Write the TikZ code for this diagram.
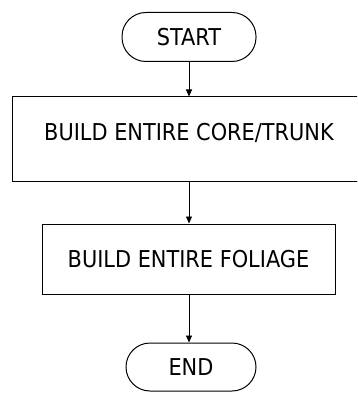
\documentclass[tikz,border=0pt]{standalone}
\usepackage{fontspec}
\setmainfont{DejaVu Sans Condensed}
\usetikzlibrary{arrows.meta}
\begin{document}
\begin{tikzpicture}[x=1pt,y=-1pt,
  lbl/.style={font=\fontsize{23.2}{27}\selectfont},
  term/.style={draw,line width=1pt,rounded corners=24pt,minimum width=134pt,minimum height=49pt,inner sep=0pt,lbl},
  procbox/.style={draw,line width=1pt,inner sep=0pt,lbl},
  conn/.style={line width=0.9pt,-{Triangle[length=7pt,width=6pt]}}]
\clip (0,0) rectangle (357,393);
\useasboundingbox (0,0) rectangle (357,393);
\fill[white] (0,0) rectangle (357,393);
\node[term] (start) at (189,37) {START};
\node[procbox,minimum width=356pt,minimum height=84pt] (b1) at (190,139) {};
\node[lbl] (t1) at (189,133) {BUILD ENTIRE CORE/TRUNK};
\node[procbox,minimum width=293pt,minimum height=70pt] (b2) at (188.5,259) {BUILD ENTIRE FOLIAGE};
\node[term,minimum width=130pt,minimum height=48pt] (end) at (191,367) {END};
\draw[conn] (start.south) -- (b1.north -| start.south);
\draw[conn] (b1.south -| start.south) -- (b2.north -| start.south);
\draw[conn] (b2.south -| start.south) -- (end.north -| start.south);
\end{tikzpicture}
\end{document}
